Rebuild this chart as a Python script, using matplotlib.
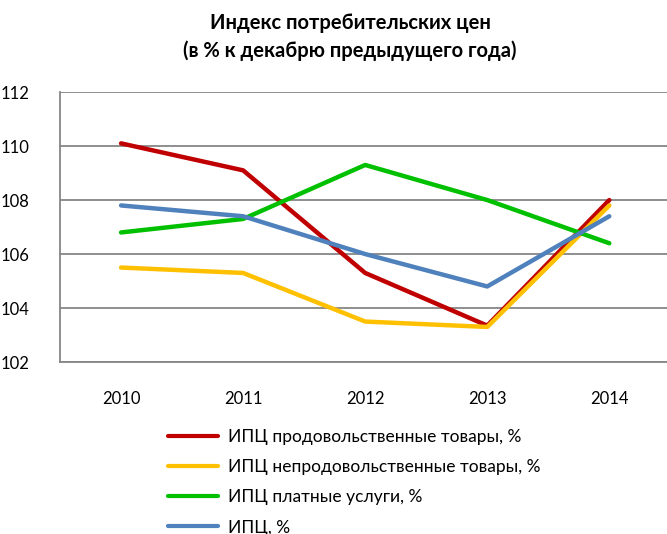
import matplotlib
matplotlib.use("Agg")
import matplotlib.pyplot as plt

plt.rcParams['font.family'] = ['Lato', 'DejaVu Sans']

years = ["2010", "2011", "2012", "2013", "2014"]
food = [110.1, 109.1, 105.3, 103.35, 108.0]
nonfood = [105.5, 105.3, 103.5, 103.3, 107.8]
services = [106.8, 107.3, 109.3, 108.0, 106.4]
cpi = [107.8, 107.4, 106.0, 104.8, 107.4]

labels = ["ИПЦ продовольственные товары, %",
          "ИПЦ непродовольственные товары, %",
          "ИПЦ платные услуги, %",
          "ИПЦ, %"]
colors = ["#C00000", "#FFC000", "#00C000", "#4F81BD"]
series = [food, nonfood, services, cpi]
yticks = [102, 104, 106, 108, 110, 112]

fig = plt.figure(figsize=(6.67, 5.34), dpi=100)
ax = fig.add_axes([0.09, 0.322, 0.915, 0.5056])

x = list(range(len(years)))
handles = []
for s, c, l in zip(series, colors, labels):
    h, = ax.plot(x, s, color=c, lw=3.2, label=l, solid_capstyle='round', solid_joinstyle='round', zorder=3)
    handles.append(h)

ax.set_xlim(-0.5, 4.5)
ax.set_ylim(102, 112)
ax.set_yticks(yticks)
ax.set_yticklabels([str(v) for v in yticks], fontsize=12)
ax.set_xticks(x)
ax.set_xticklabels(years, fontsize=12)
ax.tick_params(axis='both', length=0)
ax.tick_params(axis='y', pad=22)
ax.tick_params(axis='x', pad=21)
ax.grid(axis='y', color='#868686', lw=1.3)
ax.set_axisbelow(True)
for sp in ['top', 'right']:
    ax.spines[sp].set_visible(False)
for sp in ['left', 'bottom']:
    ax.spines[sp].set_color('#868686')
    ax.spines[sp].set_linewidth(1.3)

fig.text(0.525, 0.956, "Индекс потребительских цен", ha='center', va='center',
         fontsize=14.5, fontweight='bold')
fig.text(0.525, 0.905, "(в % к декабрю предыдущего года)", ha='center', va='center',
         fontsize=14.5, fontweight='bold')

leg = fig.legend(handles=handles, labels=labels, loc='upper left',
                 bbox_to_anchor=(0.252, 0.197), frameon=False, fontsize=12.5,
                 handlelength=2.9, handletextpad=0.55, labelspacing=0.82,
                 borderaxespad=0, borderpad=0)
for lh in leg.get_lines():
    lh.set_linewidth(3)

fig.savefig("out.png", dpi=100)
